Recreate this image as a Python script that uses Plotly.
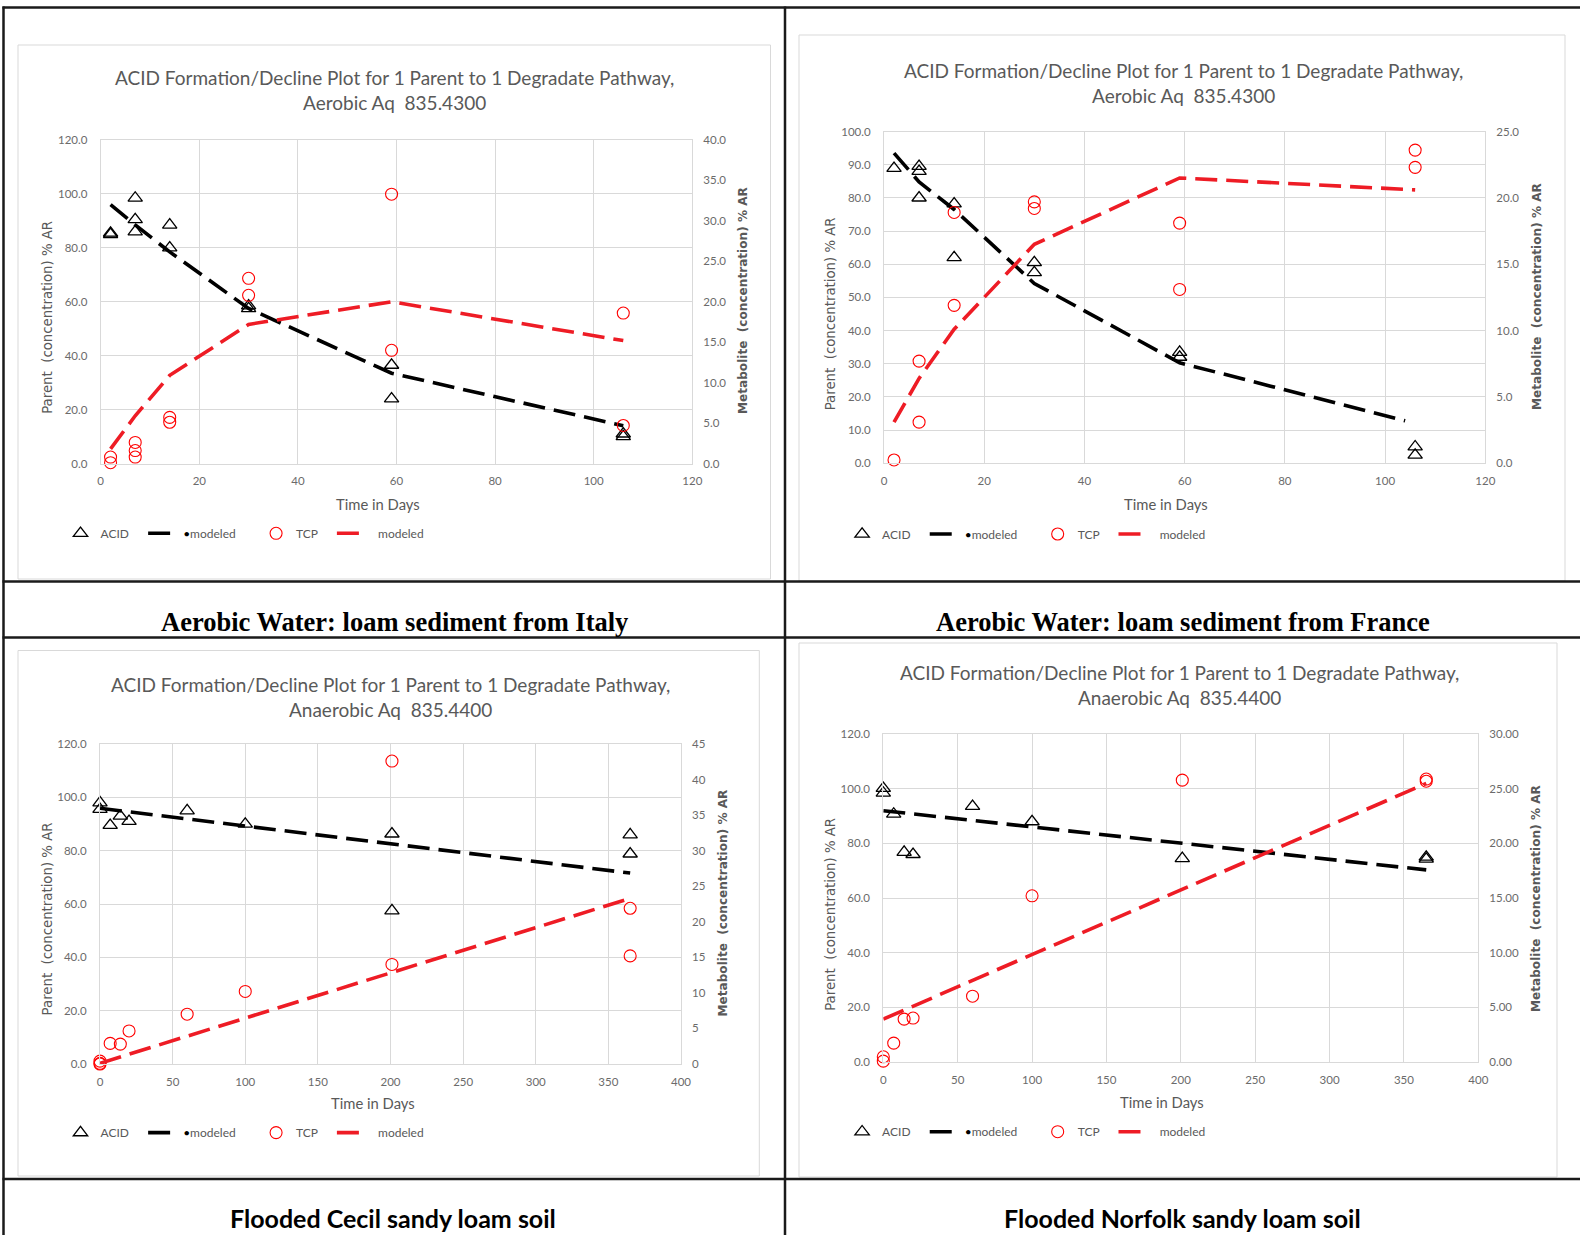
import plotly.graph_objects as go

W, H = 1580, 1235

# ---------------- data ----------------
panel_titles = [
    "ACID Formation/Decline Plot for 1 Parent to 1 Degradate Pathway,<br>Aerobic Aq  835.4300",
    "ACID Formation/Decline Plot for 1 Parent to 1 Degradate Pathway,<br>Aerobic Aq  835.4300",
    "ACID Formation/Decline Plot for 1 Parent to 1 Degradate Pathway,<br>Anaerobic Aq  835.4400",
    "ACID Formation/Decline Plot for 1 Parent to 1 Degradate Pathway,<br>Anaerobic Aq  835.4400",
]
captions = [
    "Aerobic Water: loam sediment from Italy",
    "Aerobic Water: loam sediment from France",
    "Flooded Cecil sandy loam soil",
    "Flooded Norfolk sandy loam soil",
]
x_title = "Time in Days"
left_title = "Parent  (concentration) % AR"
right_title = "Metabolite  (concentration) % AR"
legend_names = ["ACID", "modeled", "TCP", "modeled"]

# Italy (aerobic water)
it_acid_days = [2, 2, 7, 7, 7, 14, 14, 30, 30, 59, 59, 106, 106]
it_acid = [85.5, 85.0, 98.5, 90.5, 86.0, 88.5, 80.0, 58.5, 57.5, 36.5, 24.0, 11.0, 10.0]
it_acid_mod_days = [2, 7, 14, 30, 59, 106]
it_acid_mod = [96.0, 88.5, 78.5, 57.5, 33.5, 14.0]
it_tcp_days = [2, 2, 7, 7, 7, 14, 14, 30, 30, 59, 59, 106, 106]
it_tcp = [0.8, 0.1, 2.6, 1.6, 0.8, 5.7, 5.1, 22.9, 20.8, 33.3, 14.0, 18.6, 4.7]
it_tcp_mod_days = [2, 7, 14, 30, 59, 106]
it_tcp_mod = [1.8, 5.9, 10.9, 17.2, 20.0, 15.2]

# France (aerobic water)
fr_acid_days = [2, 7, 7, 7, 14, 14, 30, 30, 59, 59, 106, 106]
fr_acid = [88.9, 89.5, 88.0, 80.0, 78.2, 62.0, 60.5, 57.5, 33.5, 32.0, 5.0, 2.5]
fr_acid_mod_days = [2, 7, 14, 30, 59, 104]
fr_acid_mod = [93.5, 84.8, 76.5, 54.2, 30.3, 12.8]
fr_tcp_days = [2, 7, 7, 14, 14, 30, 30, 59, 59, 106, 106]
fr_tcp = [0.25, 7.7, 3.1, 18.9, 11.9, 19.7, 19.2, 18.1, 13.1, 23.6, 22.3]
fr_tcp_mod_days = [2, 7, 14, 30, 59, 106]
fr_tcp_mod = [3.1, 6.4, 10.1, 16.5, 21.5, 20.6]

# Cecil (flooded)
ce_acid_days = [0, 0, 7, 14, 20, 60, 100, 201, 201, 365, 365]
ce_acid = [98.0, 95.5, 89.5, 93.0, 91.0, 95.0, 90.0, 86.3, 57.5, 86.0, 78.8]
ce_acid_mod_days = [0, 365]
ce_acid_mod = [95.9, 71.6]
ce_tcp_days = [0, 0, 0, 7, 14, 20, 60, 100, 201, 201, 365, 365]
ce_tcp = [0.4, 0.1, 0.0, 2.9, 2.8, 4.65, 7.0, 10.2, 42.6, 14.0, 21.9, 15.2]
ce_tcp_mod_days = [0, 365]
ce_tcp_mod = [0.1, 23.3]

# Norfolk (flooded)
no_acid_days = [0, 0, 7, 14, 20, 60, 100, 201, 365, 365]
no_acid = [100.2, 98.5, 90.8, 76.8, 76.0, 93.6, 88.0, 74.5, 75.0, 74.3]
no_acid_mod_days = [0, 365]
no_acid_mod = [92.0, 70.3]
no_tcp_days = [0, 0, 7, 14, 20, 60, 100, 201, 365, 365]
no_tcp = [0.05, 0.45, 1.7, 3.9, 4.0, 6.0, 15.2, 25.8, 25.9, 25.7]
no_tcp_mod_days = [0, 365]
no_tcp_mod = [3.9, 25.5]

x_ranges = [[0, 120], [0, 120], [0, 400], [0, 400]]
x_dticks = [20, 20, 50, 50]
left_ranges = [[0, 120], [0, 100], [0, 120], [0, 120]]
left_dticks = [20, 10, 20, 20]
right_ranges = [[0, 40], [0, 25], [0, 45], [0, 30]]
right_dticks = [5, 5, 5, 5]
right_formats = [".1f", ".1f", "d", ".2f"]

series = [
    (it_acid_days, it_acid, it_acid_mod_days, it_acid_mod, it_tcp_days, it_tcp, it_tcp_mod_days, it_tcp_mod),
    (fr_acid_days, fr_acid, fr_acid_mod_days, fr_acid_mod, fr_tcp_days, fr_tcp, fr_tcp_mod_days, fr_tcp_mod),
    (ce_acid_days, ce_acid, ce_acid_mod_days, ce_acid_mod, ce_tcp_days, ce_tcp, ce_tcp_mod_days, ce_tcp_mod),
    (no_acid_days, no_acid, no_acid_mod_days, no_acid_mod, no_tcp_days, no_tcp, no_tcp_mod_days, no_tcp_mod),
]

# ---------------- layout geometry (pixels) ----------------
plot_boxes = [  # x0, x1, ytop, ybottom
    (100.7, 692.3, 140.0, 463.5),
    (884.0, 1485.3, 131.5, 463.3),
    (100.0, 681.0, 744.0, 1064.0),
    (883.3, 1478.3, 734.3, 1061.7),
]
frames = [
    (18, 770.5, 45, 579),
    (799, 1565, 35, 581),
    (18, 759.3, 650.5, 1176),
    (799, 1557, 643, 1177),
]
title_pos = [(394.5, 90.2), (1183, 82.6), (390.5, 696.8), (1179, 685.2)]
left_title_pos = [(47.4, 317.4), (830.3, 314.0), (47.4, 919.0), (830.3, 914.5)]
right_title_pos = [(743.7, 300.3), (1537.7, 296.3), (722.5, 903.0), (1536.7, 898.3)]
xtitle_pos = [(377.9, 503.8), (1165.9, 503.8), (372.8, 1103.4), (1161.8, 1102.4)]
legend_pos = [(60.5, 533.3), (842.1, 534.0), (60.5, 1132.6), (842.1, 1131.7)]
caption_pos = [(394, 622), (1183, 622), (393, 1218), (1182, 1218)]


def px(x):
    return x / W


def py(y):
    return 1 - y / H


GRID = "#d9d9d9"
TXT = "#595959"
TICK = "#6b6b6b"
RED = "#ff0000"
NB = "\u00a0"

fig = go.Figure()
layout = dict(
    width=W, height=H, autosize=False,
    margin=dict(l=0, r=0, t=0, b=0, pad=0, autoexpand=False),
    paper_bgcolor="white", plot_bgcolor="white",
    showlegend=True,
    font=dict(family="Lato", color=TXT),
)
annotations = []
shapes = []

leg_labels = [
    legend_names[0] + NB * 3,
    "<span style='color:black'>\u2022</span>" + legend_names[1] + NB * 5,
    legend_names[2] + NB * 3,
    NB * 2 + legend_names[3],
]

for i in range(4):
    n = i + 1
    xa = "x" if n == 1 else f"x{n}"
    ya_l = f"y{2 * n - 1}" if n > 1 else "y"
    ya_r = f"y{2 * n}"
    leg = "legend" if n == 1 else f"legend{n}"
    ad, av, amd, amv, td, tv, tmd, tmv = series[i]

    fig.add_trace(go.Scatter(
        x=ad, y=av, mode="markers", name=leg_labels[0], legend=leg,
        xaxis=xa, yaxis=ya_l, cliponaxis=False,
        marker=dict(symbol="triangle-up-open", size=12.5, color="black", line=dict(width=1.3, color="black")),
    ))
    fig.add_trace(go.Scatter(
        x=amd, y=amv, mode="lines", name=leg_labels[1], legend=leg,
        xaxis=xa, yaxis=ya_l,
        line=dict(color="black", width=3.6, dash="22px,9px"),
    ))
    fig.add_trace(go.Scatter(
        x=td, y=tv, mode="markers", name=leg_labels[2], legend=leg,
        xaxis=xa, yaxis=ya_r, cliponaxis=False,
        marker=dict(symbol="circle-open", size=12, color=RED, line=dict(width=1.1, color=RED)),
    ))
    fig.add_trace(go.Scatter(
        x=tmd, y=tmv, mode="lines", name=leg_labels[3], legend=leg,
        xaxis=xa, yaxis=ya_r,
        line=dict(color="#ee1c25", width=3.6, dash="22px,9px"),
    ))

    x0, x1, yt, yb = plot_boxes[i]
    xkey = "xaxis" if n == 1 else f"xaxis{n}"
    ylkey = "yaxis" if n == 1 else f"yaxis{2 * n - 1}"
    yrkey = f"yaxis{2 * n}"
    tickfont = dict(family="Lato", size=11.5, color=TICK)
    layout[xkey] = dict(
        domain=[px(x0), px(x1)], anchor=ya_l, range=x_ranges[i], dtick=x_dticks[i], tick0=0,
        showgrid=True, gridcolor=GRID, gridwidth=1, showline=True, linecolor=GRID, linewidth=1,
        mirror=True, zeroline=False, ticks="", tickfont=tickfont, ticklabelstandoff=7,
        fixedrange=True, automargin=False,
    )
    layout[ylkey] = dict(
        domain=[py(yb), py(yt)], anchor=xa, range=left_ranges[i], dtick=left_dticks[i], tick0=0,
        showgrid=True, gridcolor=GRID, gridwidth=1, showline=True, linecolor=GRID, linewidth=1,
        mirror=True, zeroline=False, ticks="", tickfont=tickfont, tickformat=".1f",
        ticklabelstandoff=10, fixedrange=True, automargin=False,
    )
    layout[yrkey] = dict(
        overlaying=ya_l, side="right", anchor=xa, range=right_ranges[i], dtick=right_dticks[i],
        tick0=0, showgrid=False, showline=False, zeroline=False, ticks="", tickfont=tickfont,
        tickformat=right_formats[i], ticklabelstandoff=10, fixedrange=True, automargin=False,
    )

    lx, ly = legend_pos[i]
    layout[leg] = dict(
        orientation="h", x=px(lx), y=py(ly), xanchor="left", yanchor="middle",
        xref="paper", yref="paper",
        font=dict(family="Lato", size=12, color=TXT), bgcolor="rgba(0,0,0,0)",
        borderwidth=0, itemwidth=30, traceorder="normal", itemclick=False, itemdoubleclick=False,
    )

    tx, ty = title_pos[i]
    annotations.append(dict(
        text=panel_titles[i], x=px(tx), y=py(ty), xref="paper", yref="paper",
        xanchor="center", yanchor="middle", showarrow=False,
        font=dict(family="Lato", size=19, color=TXT),
    ))
    lx2, ly2 = left_title_pos[i]
    annotations.append(dict(
        text=left_title, x=px(lx2), y=py(ly2), xref="paper", yref="paper",
        xanchor="center", yanchor="middle", showarrow=False, textangle=-90,
        font=dict(family="DejaVu Sans", size=13.3, color=TXT),
    ))
    rx, ry = right_title_pos[i]
    annotations.append(dict(
        text="<b>" + right_title + "</b>", x=px(rx), y=py(ry), xref="paper", yref="paper",
        xanchor="center", yanchor="middle", showarrow=False, textangle=-90,
        font=dict(family="DejaVu Sans", size=12.1, color=TXT),
    ))
    xx, xy = xtitle_pos[i]
    annotations.append(dict(
        text=x_title, x=px(xx), y=py(xy), xref="paper", yref="paper",
        xanchor="center", yanchor="middle", showarrow=False,
        font=dict(family="Lato", size=14.8, color=TXT),
    ))
    cx, cy = caption_pos[i]
    cap_font = dict(family="Liberation Serif", size=26.5, color="black") if i < 2 else \
        dict(family="Lato", size=25, color="black")
    annotations.append(dict(
        text="<b>" + captions[i] + "</b>", x=px(cx), y=py(cy), xref="paper", yref="paper",
        xanchor="center", yanchor="middle", showarrow=False, font=cap_font,
    ))

    fx0, fx1, fy0, fy1 = frames[i]
    shapes.append(dict(
        type="rect", xref="paper", yref="paper", x0=px(fx0), x1=px(fx1), y0=py(fy1), y1=py(fy0),
        line=dict(color=GRID, width=1), fillcolor="rgba(0,0,0,0)", layer="below",
    ))

# table borders
table_h_lines = [7.5, 581.5, 637.5, 1179.0]
table_v_lines = [3.5, 785.0]
for yv in table_h_lines:
    shapes.append(dict(type="line", xref="paper", yref="paper", x0=px(2.5), x1=1, y0=py(yv), y1=py(yv),
                       line=dict(color="#1a1a1a", width=2.5)))
for xv in table_v_lines:
    shapes.append(dict(type="line", xref="paper", yref="paper", x0=px(xv), x1=px(xv), y0=py(6.5), y1=0,
                       line=dict(color="#1a1a1a", width=2.5)))

layout["annotations"] = annotations
layout["shapes"] = shapes
fig.update_layout(**layout)
fig.write_html(
    "out.html",
    post_script="document.body.style.margin='0';document.body.style.overflow='hidden';",
)
